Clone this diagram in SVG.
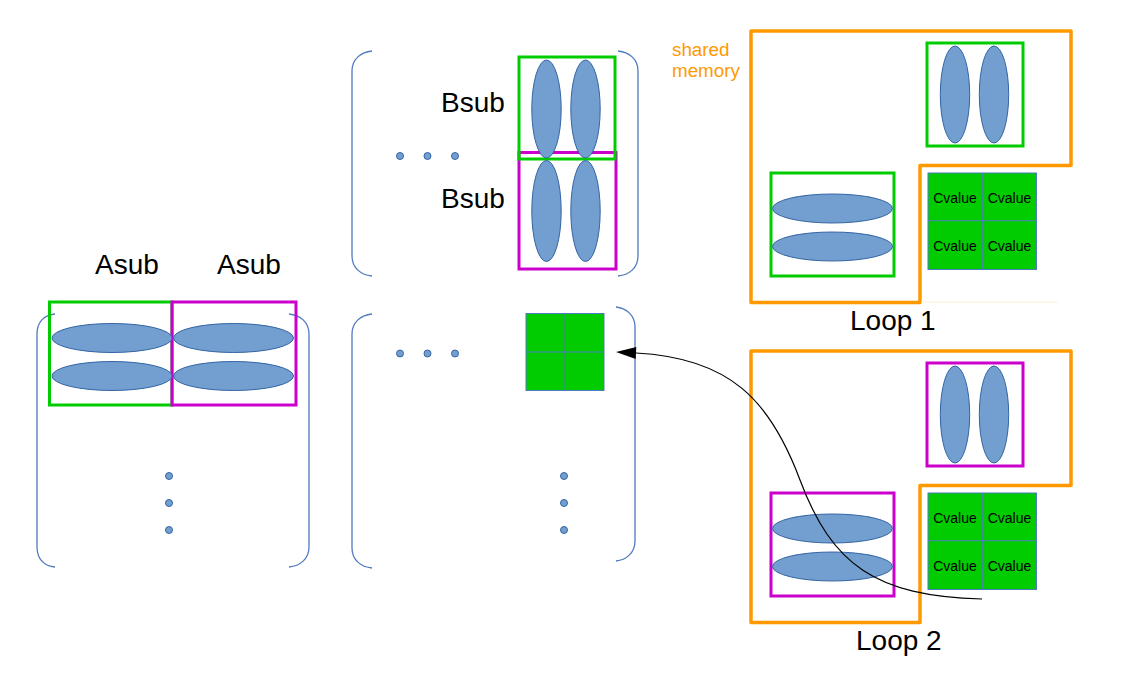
<svg xmlns="http://www.w3.org/2000/svg" width="1145" height="684" viewBox="0 0 1145 684">
<style>
.br{fill:none;stroke:#4f7bbf;stroke-width:1.3}
.el{fill:#729fcf;stroke:#3465a4;stroke-width:1}
.dot{fill:#729fcf;stroke:#3465a4;stroke-width:1}
.gb{fill:none;stroke:#00cc00;stroke-width:3}
.mb{fill:none;stroke:#cc00cc;stroke-width:3}
.or{fill:none;stroke:#ff9900;stroke-width:3.5;stroke-linejoin:round}
.grid{fill:#00cc00;stroke:#4f7bbf;stroke-width:1}
.gl{stroke:#4f7bbf;stroke-width:1}
.lbl{font-family:"Liberation Sans",Arial,sans-serif;font-size:28px;fill:#000}
.cv{font-family:"Liberation Sans",Arial,sans-serif;font-size:14px;fill:#000;text-anchor:middle}
.sm{font-family:"Liberation Sans",Arial,sans-serif;font-size:18.8px;fill:#ff9900}
</style>
<defs>
<marker id="ah" markerUnits="userSpaceOnUse" markerWidth="20" markerHeight="12" refX="0" refY="6" orient="auto" overflow="visible">
<path d="M0,0 L20,6 L0,12 z" fill="#000"/>
</marker>
</defs>
<rect width="1145" height="684" fill="#fff"/>

<g id="matrixA">
<path class="br" d="M55,314 C44,315 37,322 37,334 L37,547 C37,559 44,566 55,567"/>
<path class="br" d="M289,314 C300,315 309,322 309,334 L309,547 C309,559 300,566 289,567"/>
<rect class="gb" x="49.5" y="302" width="122.5" height="103"/>
<rect class="mb" x="172" y="302" width="124" height="103"/>
<ellipse class="el" cx="112" cy="338" rx="60" ry="14.5"/>
<ellipse class="el" cx="112" cy="376" rx="60" ry="14.5"/>
<ellipse class="el" cx="233.5" cy="338" rx="60" ry="14.5"/>
<ellipse class="el" cx="233.5" cy="376" rx="60" ry="14.5"/>
<circle class="dot" cx="169" cy="476" r="3.5"/>
<circle class="dot" cx="169" cy="503" r="3.5"/>
<circle class="dot" cx="169" cy="530" r="3.5"/>
<text class="lbl" x="95" y="274">Asub</text>
<text class="lbl" x="217" y="274">Asub</text>
</g>

<g id="matrixB">
<path class="br" d="M372,51 C361,52 352,59 352,71 L352,256 C352,268 361,275 372,276"/>
<path class="br" d="M618,51 C629,52 638,59 638,71 L638,256 C638,268 629,275 618,276"/>
<rect class="mb" x="519" y="152.5" width="97" height="116.5"/>
<rect class="gb" x="519" y="57" width="96" height="102"/>
<ellipse class="el" cx="546.5" cy="109" rx="14.7" ry="49"/>
<ellipse class="el" cx="585.5" cy="109" rx="14.7" ry="49"/>
<ellipse class="el" cx="546.5" cy="211" rx="14.7" ry="50.5"/>
<ellipse class="el" cx="585.5" cy="211" rx="14.7" ry="50.5"/>
<circle class="dot" cx="400" cy="156" r="3.5"/>
<circle class="dot" cx="427.5" cy="156" r="3.5"/>
<circle class="dot" cx="455" cy="156" r="3.5"/>
<text class="lbl" x="441" y="111.5">Bsub</text>
<text class="lbl" x="441" y="208">Bsub</text>
</g>

<g id="matrixC">
<path class="br" d="M372,314 C361,315 352,322 352,334 L352,548 C352,560 361,567 372,568"/>
<path class="br" d="M616,307 C626,308 635,315 635,327 L635,541 C635,553 626,560 616,561"/>
<rect class="grid" x="526" y="313.5" width="78" height="77"/>
<line class="gl" x1="565" y1="313.5" x2="565" y2="390.5"/>
<line class="gl" x1="526" y1="352" x2="604" y2="352"/>
<circle class="dot" cx="400" cy="353.5" r="3.5"/>
<circle class="dot" cx="427.5" cy="353.5" r="3.5"/>
<circle class="dot" cx="455" cy="353.5" r="3.5"/>
<circle class="dot" cx="564" cy="476" r="3.5"/>
<circle class="dot" cx="564" cy="503" r="3.5"/>
<circle class="dot" cx="564" cy="530" r="3.5"/>
</g>

<g id="sharedLabel">
<text class="sm" x="672" y="56">shared</text>
<text class="sm" x="672" y="77">memory</text>
</g>

<g id="loop1">
<path class="or" d="M751,31 L1071,31 L1071,165.5 L920,165.5 L920,302.5 L751,302.5 Z"/>
<line x1="921" y1="302" x2="1058" y2="302" stroke="#fdf0d8" stroke-width="1"/>
<rect class="gb" x="927" y="43" width="96" height="103"/>
<ellipse class="el" cx="955" cy="94.5" rx="14.7" ry="48.5"/>
<ellipse class="el" cx="994" cy="94.5" rx="14.7" ry="48.5"/>
<rect class="gb" x="771" y="173" width="123" height="103"/>
<ellipse class="el" cx="832.5" cy="208.5" rx="60" ry="14.5"/>
<ellipse class="el" cx="832.5" cy="246.5" rx="60" ry="14.5"/>
<rect class="grid" x="928" y="173" width="108.5" height="96.5"/>
<line class="gl" x1="982.3" y1="173" x2="982.3" y2="269.5"/>
<line class="gl" x1="928" y1="220.7" x2="1036.5" y2="220.7"/>
<text class="cv" x="955" y="202.5">Cvalue</text>
<text class="cv" x="1009.5" y="202.5">Cvalue</text>
<text class="cv" x="955" y="250.5">Cvalue</text>
<text class="cv" x="1009.5" y="250.5">Cvalue</text>
<text class="lbl" x="850" y="330">Loop 1</text>
</g>

<g id="loop2">
<path class="or" d="M751,351 L1071,351 L1071,485.5 L920,485.5 L920,622.5 L751,622.5 Z"/>
<rect class="mb" x="927" y="363" width="96" height="103"/>
<ellipse class="el" cx="955" cy="414.5" rx="14.7" ry="48.5"/>
<ellipse class="el" cx="994" cy="414.5" rx="14.7" ry="48.5"/>
<rect class="mb" x="771" y="493" width="123" height="103"/>
<ellipse class="el" cx="832.5" cy="528.5" rx="60" ry="14.5"/>
<ellipse class="el" cx="832.5" cy="566.5" rx="60" ry="14.5"/>
<rect class="grid" x="928" y="493" width="108.5" height="96.5"/>
<line class="gl" x1="982.3" y1="493" x2="982.3" y2="589.5"/>
<line class="gl" x1="928" y1="540.7" x2="1036.5" y2="540.7"/>
<text class="cv" x="955" y="522.5">Cvalue</text>
<text class="cv" x="1009.5" y="522.5">Cvalue</text>
<text class="cv" x="955" y="570.5">Cvalue</text>
<text class="cv" x="1009.5" y="570.5">Cvalue</text>
<text class="lbl" x="856" y="650">Loop 2</text>
</g>

<g id="connectors">
<path d="M982,599 C875,596 832,565 800,480 C770,400 730,358 636,353" fill="none" stroke="#000" stroke-width="1.2" marker-end="url(#ah)"/>
</g>
</svg>
